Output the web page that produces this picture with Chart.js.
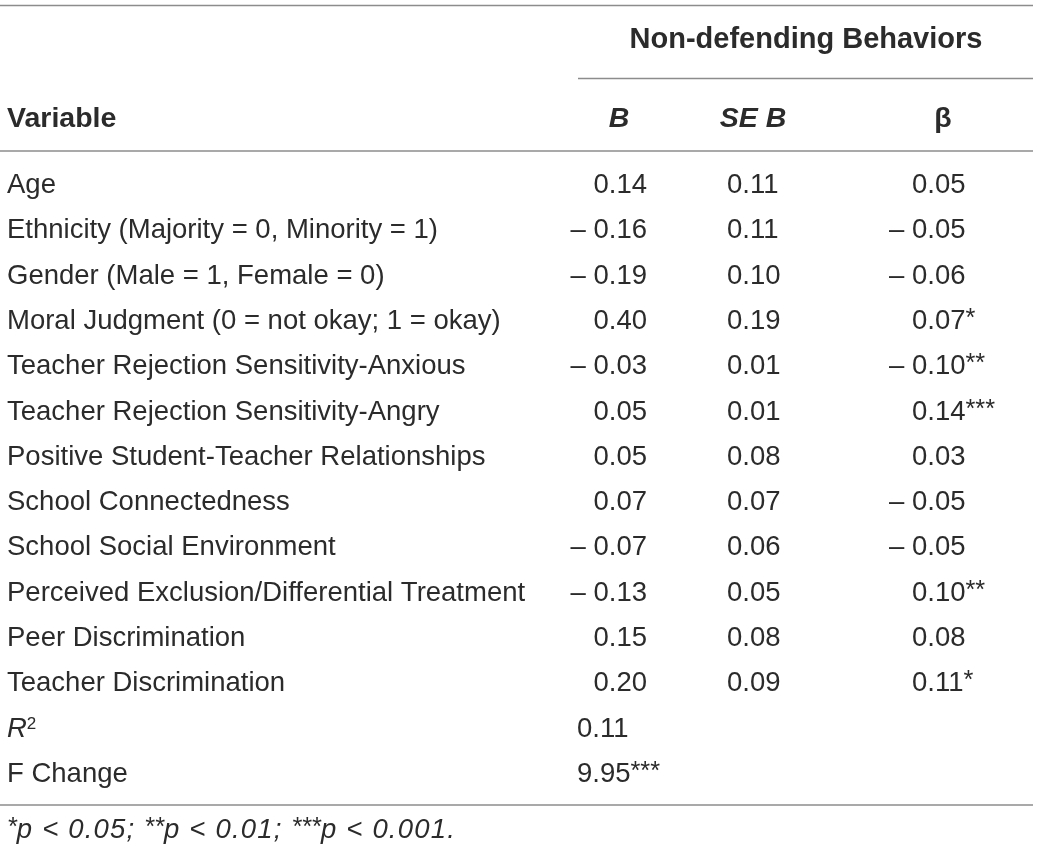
<!DOCTYPE html>
<html>
<head>
<meta charset="utf-8">
<script src="https://cdn.jsdelivr.net/npm/chart.js@4.4.1/dist/chart.umd.min.js"></script>
<style>
  html, body { margin: 0; padding: 0; background: #ffffff; }
  #wrap { width: 1040px; height: 852px; position: relative; }
</style>
</head>
<body>
<div id="wrap"><canvas id="c" width="1040" height="852"></canvas></div>
<script>
// ---------- DATA ----------
const variables = [
  'Age',
  'Ethnicity (Majority = 0, Minority = 1)',
  'Gender (Male = 1, Female = 0)',
  'Moral Judgment (0 = not okay; 1 = okay)',
  'Teacher Rejection Sensitivity-Anxious',
  'Teacher Rejection Sensitivity-Angry',
  'Positive Student-Teacher Relationships',
  'School Connectedness',
  'School Social Environment',
  'Perceived Exclusion/Differential Treatment',
  'Peer Discrimination',
  'Teacher Discrimination'
];
const bValues    = [0.14, -0.16, -0.19, 0.40, -0.03, 0.05, 0.05, 0.07, -0.07, -0.13, 0.15, 0.20];
const seValues   = [0.11, 0.11, 0.10, 0.19, 0.01, 0.01, 0.08, 0.07, 0.06, 0.05, 0.08, 0.09];
const betaValues = [0.05, -0.05, -0.06, 0.07, -0.10, 0.14, 0.03, -0.05, -0.05, 0.10, 0.08, 0.11];
const betaStars  = ['', '', '', '*', '**', '***', '', '', '', '**', '', '*'];
const rSquared = 0.11;
const fChange = 9.95;
const fChangeStars = '***';
const groupTitle = 'Non-defending Behaviors';
const columnHeaders = ['Variable', 'B', 'SE B', 'β'];
const statLabels = ['R2', 'F Change'];
const footnoteParts = [['*', 'p < 0.05; '], ['**', 'p < 0.01; '], ['***', 'p < 0.001.']];

// ---------- STYLE / LAYOUT ----------
const FONT = '"Liberation Sans", Arial, sans-serif';
const SIZE = 27.5;
const INK = '#2b2b2b';
const RULE = '#8c8c8c';
const layout = {
  labelX: 7, bRight: 647, seLeft: 727, betaAnchor: 912, statLeft: 577,
  headB: 619, headSE: 753, headBeta: 943,
  groupCenter: 806, groupBase: 48.3, headBase: 127.3,
  rules: [
    { y: 5.5, x0: 0, x1: 1033 },
    { y: 78.5, x0: 578, x1: 1033 },
    { y: 151, x0: 0, x1: 1033 },
    { y: 805, x0: 0, x1: 1033 }
  ],
  footBase: 838, capHalf: 10
};

const rowKeys = variables.concat(statLabels);

function fmt(v) {
  return (v < 0 ? '– ' : '') + Math.abs(v).toFixed(2);
}
function f(style, weight, size) {
  return style + ' ' + weight + ' ' + size + 'px ' + FONT;
}
// Draw a sequence of segments [{t, font, dy, ls}] anchored at x
function drawSegs(ctx, segs, x, base, align) {
  let total = 0;
  const widths = segs.map(s => {
    ctx.font = s.font;
    ctx.letterSpacing = (s.ls || 0) + 'px';
    const w = ctx.measureText(s.t).width;
    total += w;
    return w;
  });
  let cx = align === 'right' ? x - total : align === 'center' ? x - total / 2 : x;
  ctx.textAlign = 'left';
  ctx.textBaseline = 'alphabetic';
  segs.forEach((s, i) => {
    ctx.font = s.font;
    ctx.letterSpacing = (s.ls || 0) + 'px';
    ctx.fillText(s.t, cx, base + (s.dy || 0));
    cx += widths[i];
  });
  ctx.letterSpacing = '0px';
}
const REG = f('normal', 'normal', SIZE);
const STAR = f('normal', 'normal', SIZE * 0.92);
const STARDY = -3;
const SUP = f('normal', 'normal', SIZE * 0.62);
const SUPDY = -8;

const tablePlugin = {
  id: 'tableText',
  afterDraw(chart) {
    const ctx = chart.ctx;
    const y = chart.scales.y;
    ctx.save();
    ctx.fillStyle = INK;

    // rules
    ctx.strokeStyle = RULE;
    ctx.lineWidth = 1.3;
    layout.rules.forEach(r => {
      ctx.beginPath();
      ctx.moveTo(r.x0, r.y);
      ctx.lineTo(r.x1, r.y);
      ctx.stroke();
    });

    // headers
    drawSegs(ctx, [{ t: groupTitle, font: f('normal', 'bold', 29) }], layout.groupCenter, layout.groupBase, 'center');
    drawSegs(ctx, [{ t: columnHeaders[0], font: f('normal', 'bold', 28.5) }], layout.labelX, layout.headBase, 'left');
    drawSegs(ctx, [{ t: columnHeaders[1], font: f('italic', 'bold', 28.5) }], layout.headB, layout.headBase, 'center');
    drawSegs(ctx, [{ t: columnHeaders[2], font: f('italic', 'bold', 28.5) }], layout.headSE, layout.headBase, 'center');
    drawSegs(ctx, [{ t: columnHeaders[3], font: f('normal', 'bold', 28.5) }], layout.headBeta, layout.headBase, 'center');

    // body rows
    variables.forEach((name, i) => {
      const base = y.getPixelForValue(i) + layout.capHalf;
      drawSegs(ctx, [{ t: name, font: REG }], layout.labelX, base, 'left');
      drawSegs(ctx, [{ t: fmt(bValues[i]), font: REG }], layout.bRight, base, 'right');
      drawSegs(ctx, [{ t: fmt(seValues[i]), font: REG }], layout.seLeft, base, 'left');
      const bv = betaValues[i];
      if (bv < 0) drawSegs(ctx, [{ t: '– ', font: REG }], layout.betaAnchor, base, 'right');
      drawSegs(ctx, [{ t: Math.abs(bv).toFixed(2), font: REG }, { t: betaStars[i], font: STAR, dy: STARDY }], layout.betaAnchor, base, 'left');
    });

    // R squared row
    const rIdx = variables.length;
    let base = y.getPixelForValue(rIdx) + layout.capHalf;
    drawSegs(ctx, [{ t: 'R', font: f('italic', 'normal', SIZE) }, { t: '2', font: SUP, dy: SUPDY }], layout.labelX, base, 'left');
    drawSegs(ctx, [{ t: rSquared.toFixed(2), font: REG }], layout.statLeft, base, 'left');

    // F change row
    base = y.getPixelForValue(rIdx + 1) + layout.capHalf;
    drawSegs(ctx, [{ t: statLabels[1], font: REG }], layout.labelX, base, 'left');
    drawSegs(ctx, [{ t: fChange.toFixed(2), font: REG }, { t: fChangeStars, font: STAR, dy: STARDY }], layout.statLeft, base, 'left');

    // footnote
    const segs = [];
    footnoteParts.forEach(p => {
      segs.push({ t: p[0], font: f('italic', 'normal', SIZE * 0.92), dy: STARDY });
      segs.push({ t: p[1], font: f('italic', 'normal', SIZE), ls: 1.2 });
    });
    drawSegs(ctx, segs, layout.labelX, layout.footBase, 'left');
    ctx.restore();
  }
};

new Chart(document.getElementById('c'), {
  type: 'scatter',
  data: {
    datasets: [{
      data: rowKeys.map((k, i) => ({ x: 0, y: i })),
      pointRadius: 0,
      showLine: false
    }]
  },
  options: {
    responsive: false,
    animation: false,
    devicePixelRatio: 1,
    layout: { padding: { top: 160.35, bottom: 57.35, left: 0, right: 0 } },
    plugins: { legend: { display: false }, tooltip: { enabled: false } },
    events: [],
    scales: {
      x: { type: 'linear', min: 0, max: 1040, display: false },
      y: { type: 'category', labels: rowKeys, offset: true, display: false }
    }
  },
  plugins: [tablePlugin]
});
</script>
</body>
</html>
